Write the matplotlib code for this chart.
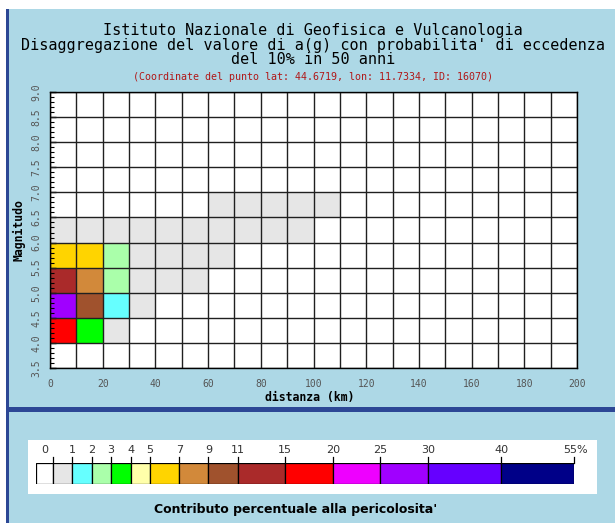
import numpy as np
import matplotlib
matplotlib.use('Agg')
import matplotlib.pyplot as plt
from matplotlib.colors import ListedColormap, BoundaryNorm
from matplotlib.patches import Rectangle

# ---------------- data ----------------
title_lines = ["Istituto Nazionale di Geofisica e Vulcanologia",
               "Disaggregazione del valore di a(g) con probabilita' di eccedenza",
               "del 10% in 50 anni"]
subtitle = "(Coordinate del punto lat: 44.6719, lon: 11.7334, ID: 16070)"
x_label = "distanza (km)"
y_label = "Magnitudo"
legend_title = "Contributo percentuale alla pericolosita'"

dist_edges = np.arange(0, 201, 10)          # distance bins (km)
mag_edges = np.arange(3.5, 9.01, 0.5)       # magnitude bins
x_ticks = [0, 20, 40, 60, 80, 100, 120, 140, 160, 180, 200]
y_ticks = [3.5, 4.0, 4.5, 5.0, 5.5, 6.0, 6.5, 7.0, 7.5, 8.0, 8.5, 9.0]
y_tick_labels = ["3.5", "4.0", "4.5", "5.0", "5.5", "6.0", "6.5", "7.0", "7.5", "8.0", "8.5", "9.0"]

# non-zero cells: distance bin start, magnitude bin start, contribution (%)
cell_dist = [0, 10, 20,
             0, 10, 20, 30,
             0, 10, 20, 30, 40, 50,
             0, 10, 20, 30, 40, 50, 60,
             0, 10, 20, 30, 40, 50, 60, 70, 80, 90,
             60, 70, 80, 90, 100]
cell_mag = [4.0, 4.0, 4.0,
            4.5, 4.5, 4.5, 4.5,
            5.0, 5.0, 5.0, 5.0, 5.0, 5.0,
            5.5, 5.5, 5.5, 5.5, 5.5, 5.5, 5.5,
            6.0, 6.0, 6.0, 6.0, 6.0, 6.0, 6.0, 6.0, 6.0, 6.0,
            6.5, 6.5, 6.5, 6.5, 6.5]
cell_pct = [16.0, 3.5, 0.5,
            25.5, 9.5, 1.5, 0.3,
            12.0, 7.5, 2.5, 0.6, 0.3, 0.2,
            6.0, 5.5, 2.2, 0.8, 0.5, 0.3, 0.2,
            0.6, 0.7, 0.6, 0.5, 0.4, 0.3, 0.3, 0.2, 0.2, 0.1,
            0.2, 0.2, 0.2, 0.1, 0.1]

legend_bounds = [0, 1, 2, 3, 4, 5, 7, 9, 11, 15, 20, 25, 30, 40, 55]
legend_labels = ["0", "1", "2", "3", "4", "5", "7", "9", "11", "15", "20", "25", "30", "40", "55%"]
legend_colors = ['#E6E6E6', '#66FFFF', '#AAFFAA', '#00FF00', '#FFFFAA', '#FFD400',
                 '#D2893A', '#A0522D', '#AA2A2A', '#FF0000', '#EE00FF', '#A000FF',
                 '#6600FF', '#000088']

# ---------------- style ----------------
W, H = 615, 523
LIGHT = '#ADD8E6'
DARK = '#2C4795'
MONO = 'DejaVu Sans Mono'
legend_widths = [0.88, 1, 1, 1, 1, 1, 1.5, 1.5, 1.5, 2.45, 2.45, 2.45, 2.45, 3.75, 3.75]


def fx(px):
    return px / W


def fy(py):
    return 1 - py / H


fig = plt.figure(figsize=(W / 100, H / 100), dpi=100, facecolor='white')

# background panels
fig.add_artist(Rectangle((fx(9), fy(407)), 1 - fx(9), fy(9) - fy(407),
                         transform=fig.transFigure, facecolor=LIGHT, edgecolor='none', zorder=-5))
fig.add_artist(Rectangle((fx(9), 0), 1 - fx(9), fy(412),
                         transform=fig.transFigure, facecolor=LIGHT, edgecolor='none', zorder=-5))
fig.add_artist(Rectangle((fx(6), fy(412)), 1 - fx(6), fy(407) - fy(412),
                         transform=fig.transFigure, facecolor=DARK, edgecolor='none', zorder=-4))
fig.add_artist(Rectangle((fx(6), 0), fx(9) - fx(6), fy(9),
                         transform=fig.transFigure, facecolor=DARK, edgecolor='none', zorder=-4))
fig.add_artist(Rectangle((fx(28), fy(494)), fx(597) - fx(28), fy(440) - fy(494),
                         transform=fig.transFigure, facecolor='white', edgecolor='none', zorder=-3))

# titles
for i, line in enumerate(title_lines):
    fig.text(fx(313), fy(30.5 + 14.6 * i), line, ha='center', va='center',
             family=MONO, fontsize=10.9, color='black')
fig.text(fx(313), fy(77.5), subtitle, ha='center', va='center', family=MONO,
         fontsize=7.2, color='#B01818')

# main axes
ax = fig.add_axes([fx(50), fy(368), fx(577) - fx(50), fy(92) - fy(368)])
ax.set_facecolor('white')
Z = np.ma.masked_all((len(mag_edges) - 1, len(dist_edges) - 1))
for d, m, p in zip(cell_dist, cell_mag, cell_pct):
    i = int(round((m - mag_edges[0]) / 0.5))
    j = int(round((d - dist_edges[0]) / 10))
    Z[i, j] = p
cmap = ListedColormap(legend_colors)
norm = BoundaryNorm(legend_bounds, cmap.N)
ax.pcolormesh(dist_edges, mag_edges, Z, cmap=cmap, norm=norm, shading='flat')
ax.set_xlim(dist_edges[0], dist_edges[-1])
ax.set_ylim(mag_edges[0], mag_edges[-1])
for d in dist_edges:
    ax.axvline(d, color='#202020', lw=1.0, zorder=3)
for m in mag_edges:
    ax.axhline(m, color='#202020', lw=1.0, zorder=3)
for s in ax.spines.values():
    s.set_color('black')
    s.set_linewidth(1.0)
    s.set_zorder(4)

ax.set_xticks(x_ticks)
ax.set_xticklabels([str(v) for v in x_ticks], family=MONO, fontsize=7, color='#555555')
ax.set_yticks(y_ticks)
ax.set_yticklabels(y_tick_labels, family=MONO, fontsize=7, color='#555555',
                   rotation=90, va='center')
ax.set_yticks(np.arange(3.5, 9.0, 0.1), minor=True)
ax.tick_params(axis='x', length=0, pad=8)
ax.tick_params(axis='y', which='major', direction='in', length=4, width=1, color='black', pad=6)
ax.tick_params(axis='y', which='minor', direction='in', length=3, width=0.8, color='black')

fig.text(fx(310), fy(397), x_label, ha='center', va='center', family=MONO,
         fontsize=8.3, weight='bold', color='black')
fig.text(fx(18.5), fy(230), y_label, ha='center', va='center', family=MONO,
         fontsize=8.3, weight='bold', color='black', rotation=90)

# legend colour bar
lax = fig.add_axes([fx(35.7), fy(484), fx(574) - fx(35.7), fy(463) - fy(484)])
widths = np.array(legend_widths)
lefts = np.concatenate([[0], np.cumsum(widths)[:-1]])
lax.bar(lefts, 1, width=widths, align='edge', color=['white'] + legend_colors,
        edgecolor='black', linewidth=0.9)
total = widths.sum()
lax.set_xlim(0, total)
lax.set_ylim(0, 1)
lax.axis('off')
edges = np.cumsum(widths)
for k, lab in enumerate(legend_labels):
    xe = edges[k]
    lax.plot([xe, xe], [1, 1.3], color='black', lw=0.9, clip_on=False)
    xt = widths[0] / 2 if k == 0 else xe
    if lab.endswith('%'):
        lax.text(xt - 0.55, 1.62, lab, ha='left', va='center', fontsize=8,
                 color='#333333', clip_on=False)
    else:
        lax.text(xt, 1.62, lab, ha='center', va='center', fontsize=8,
                 color='#333333', clip_on=False)

fig.text(fx(296), fy(510), legend_title, ha='center', va='center',
         fontsize=9, weight='bold', color='black')

fig.savefig('out.png', dpi=100, facecolor='white')
